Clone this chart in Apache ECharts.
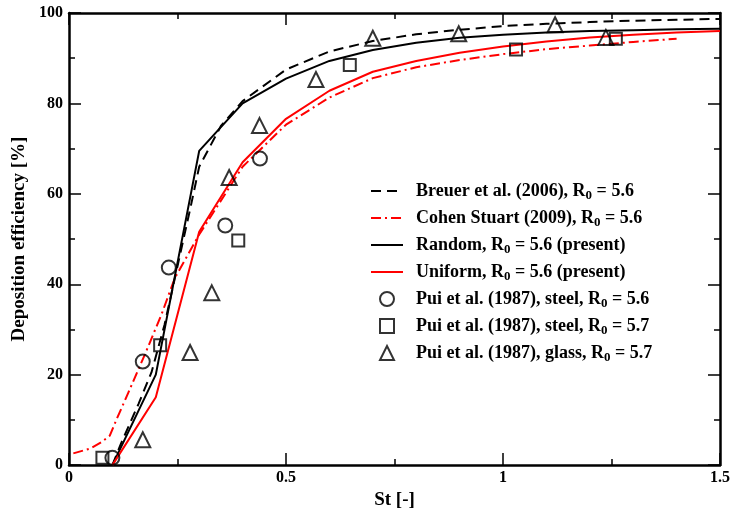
<!DOCTYPE html>
<html>
<head>
<meta charset="utf-8">
<script src="https://cdn.jsdelivr.net/npm/echarts@6/dist/echarts.min.js"></script>
<style>html,body{margin:0;padding:0;background:#fff}#c{width:733px;height:515px}</style>
</head>
<body>
<div id="c"></div>
<script>
// ---- Data ----
var breuer = [[0.1,0],[0.12,4.8],[0.16,13.5],[0.19,20.5],[0.22,31],[0.25,44],[0.28,57],[0.3,66],[0.35,75],[0.4,80.5],[0.5,87.5],[0.6,91.5],[0.7,93.8],[0.8,95.3],[0.9,96.3],[1.0,97.1],[1.1,97.6],[1.2,98.0],[1.3,98.3],[1.4,98.5],[1.5,98.7]];
var cohen = [[0.01,2.6],[0.05,3.7],[0.075,5.1],[0.094,6.5],[0.11,10.2],[0.137,16.1],[0.175,24.5],[0.213,33.3],[0.244,41.4],[0.3,51],[0.4,66],[0.5,75.3],[0.6,81.3],[0.7,85.6],[0.8,88.0],[0.9,89.6],[1.0,90.9],[1.1,92.0],[1.2,92.8],[1.3,93.6],[1.4,94.3]];
var random = [[0.1,0],[0.2,20],[0.3,69.5],[0.4,80],[0.5,85.5],[0.6,89.4],[0.7,91.8],[0.8,93.4],[0.9,94.5],[1.0,95.2],[1.1,95.7],[1.2,96.0],[1.3,96.2],[1.4,96.4],[1.5,96.5]];
var uniform = [[0.1,0],[0.2,15],[0.3,51.6],[0.4,67],[0.5,76.6],[0.6,82.8],[0.7,87.0],[0.8,89.4],[0.9,91.2],[1.0,92.6],[1.1,93.7],[1.2,94.6],[1.3,95.2],[1.4,95.7],[1.5,96.0]];
var puiSteel56 = [[0.10,1.6],[0.17,22.9],[0.23,43.7],[0.36,53.0],[0.44,67.8]];
var puiSteel57 = [[0.077,1.6],[0.21,26.5],[0.39,49.7],[0.647,88.5],[1.03,91.9],[1.26,94.3]];
var puiGlass57 = [[0.17,5.6],[0.279,24.9],[0.329,38.1],[0.369,63.6],[0.439,75.1],[0.569,85.3],[0.70,94.4],[0.898,95.4],[1.12,97.4],[1.237,94.6]];
var lineNames = [
  'Breuer et al. (2006), R{sub|0} = 5.6',
  'Cohen Stuart (2009), R{sub|0} = 5.6',
  'Random, R{sub|0} = 5.6 (present)',
  'Uniform, R{sub|0} = 5.6 (present)'
];
var pointNames = [
  'Pui et al. (1987), steel, R{sub|0} = 5.6',
  'Pui et al. (1987), steel, R{sub|0} = 5.7',
  'Pui et al. (1987), glass, R{sub|0} = 5.7'
];
var xTicks = {min:0, max:1.5, interval:0.5};
var yTicks = {min:0, max:100, interval:20};

var FONT = 'Liberation Serif';
var chart = echarts.init(document.getElementById('c'));
function lineS(name, data, color, type){
  return {name:name, type:'line', data:data, symbol:'none', smooth:false,
    lineStyle:{color:color, width:2, type:type}, itemStyle:{color:color}, z:3};
}
function scatS(name, data, sym, size){
  return {name:name, type:'scatter', data:data, symbol:sym, symbolSize:size,
    itemStyle:{color:'rgba(0,0,0,0)', borderColor:'#000', borderWidth:2}, z:4};
}
var axisCommon = {
  axisLine:{show:true, onZero:false, lineStyle:{color:'#000', width:2.5}},
  axisTick:{show:true, inside:true, length:12, lineStyle:{color:'#000', width:1.5}},
  minorTick:{show:true, splitNumber:2, length:6, lineStyle:{color:'#000', width:1.5}},
  splitLine:{show:false}
};
function ax(extra){ return Object.assign({}, JSON.parse(JSON.stringify(axisCommon)), extra); }
var legendText = {fontFamily:FONT, fontWeight:'bold', fontSize:18, color:'#000',
  rich:{sub:{fontFamily:FONT, fontWeight:'bold', fontSize:13, color:'#000', verticalAlign:'bottom', padding:[9,0,0,0]}}};
chart.setOption({
  animation:false,
  backgroundColor:'#fff',
  grid:{left:69, right:13, top:13, bottom:47},
  xAxis:[
    ax({type:'value', position:'bottom', min:xTicks.min, max:xTicks.max, interval:xTicks.interval,
      name:'St [-]', nameLocation:'middle', nameGap:23,
      nameTextStyle:{fontFamily:FONT, fontWeight:'bold', fontSize:19, color:'#000'},
      axisLabel:{margin:5, fontFamily:FONT, fontWeight:'bold', fontSize:16, color:'#000',
        formatter:function(v){return String(v);} }}),
    ax({type:'value', position:'top', min:xTicks.min, max:xTicks.max, interval:xTicks.interval,
      axisLabel:{show:false}})
  ],
  yAxis:[
    ax({type:'value', position:'left', min:yTicks.min, max:yTicks.max, interval:yTicks.interval,
      name:'Deposition efficiency [%]', nameLocation:'middle', nameGap:38,
      nameTextStyle:{fontFamily:FONT, fontWeight:'bold', fontSize:19, color:'#000'},
      axisLabel:{margin:6, fontFamily:FONT, fontWeight:'bold', fontSize:16, color:'#000'}}),
    ax({type:'value', position:'right', min:yTicks.min, max:yTicks.max, interval:yTicks.interval,
      axisLabel:{show:false}})
  ],
  legend:[
    {orient:'vertical', left:370, top:182, padding:0, itemWidth:32, itemHeight:14, itemGap:7,
      data:lineNames.map(function(n){return {name:n, itemStyle:{opacity:0}};}),
      textStyle:Object.assign({padding:[0,0,0,8]}, legendText)},
    {orient:'vertical', left:379, top:290, padding:0, itemWidth:14, itemHeight:14, itemGap:7,
      data:pointNames,
      textStyle:Object.assign({padding:[0,0,0,17]}, legendText)}
  ],
  series:[
    lineS(lineNames[0], breuer, '#000', [10,6]),
    lineS(lineNames[1], cohen, '#ff0000', [10,4,2,4]),
    lineS(lineNames[2], random, '#000', 'solid'),
    lineS(lineNames[3], uniform, '#ff0000', 'solid'),
    scatS(pointNames[0], puiSteel56, 'circle', 14),
    scatS(pointNames[1], puiSteel57, 'rect', 12),
    scatS(pointNames[2], puiGlass57, 'triangle', 15)
  ]
});
</script>
</body>
</html>
